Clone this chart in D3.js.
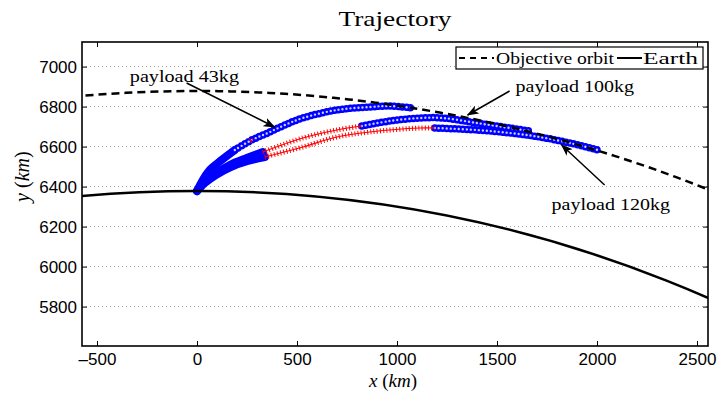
<!DOCTYPE html>
<html>
<head>
<meta charset="utf-8">
<script src="https://cdn.jsdelivr.net/npm/d3@7"></script>
<style>
  body { margin: 0; background: #fff; }
  svg { display: block; }
</style>
</head>
<body>
<div id="vis"></div>
<script>
// Tick values
var xTicks = [-500, 0, 500, 1000, 1500, 2000, 2500];
var yTicks = [5800, 6000, 6200, 6400, 6600, 6800, 7000];

// Radii (km) of the Earth and the objective orbit
var earthRadius = 6378;
var orbitRadius = 6878;

// payload 43kg
var launch43 = [[0, 6378], [29, 6433], [64, 6483], [104, 6518], [189, 6583]];
var thrust43 = [[189, 6583], [274, 6633], [354, 6668], [439, 6708], [529, 6743], [699, 6783], [864, 6798], [964, 6803], [1079, 6793]];
var coast43 = [[266, 6628], [280, 6636]];

// payload 100kg
var launch100 = [[0, 6378], [39, 6423], [89, 6463], [164, 6508], [249, 6543], [329, 6573]];
var coast100 = [[329, 6573], [529, 6643], [699, 6683], [824, 6703]];
var thrust100 = [[824, 6703], [964, 6728], [1114, 6743], [1229, 6743], [1399, 6718], [1564, 6693], [1664, 6678]];

// payload 120kg
var launch120 = [[0, 6378], [39, 6418], [94, 6458], [169, 6498], [254, 6528], [339, 6548]];
var coast120 = [[339, 6548], [529, 6598], [699, 6648], [864, 6673], [1114, 6693], [1189, 6693]];
var thrust120 = [[1189, 6693], [1399, 6683], [1564, 6668], [1714, 6648], [1864, 6618], [2004, 6583]];

// Annotations: text, text anchor point, arrow tail, arrow tip (km)
var noteLabels = ['payload 43kg', 'payload 100kg', 'payload 120kg'];
var noteText = [[-336, 6923], [1593, 6873], [1773, 6283]];
var noteTail = [[-52, 6918], [1563, 6878], [2038, 6408]];
var noteTip = [[388, 6698], [1353, 6758], [1823, 6608]];

// Chart size
var width = 720;
var height = 395;
var margin = {top: 42, right: 12, bottom: 49, left: 82};
var innerW = width - margin.left - margin.right;
var innerH = height - margin.top - margin.bottom;

var x = d3.scaleLinear().domain([-575, 2555]).range([0, innerW]);
var y = d3.scaleLinear().domain([5603, 7123]).range([innerH, 0]);

var svg = d3.select('#vis').append('svg')
    .attr('width', width)
    .attr('height', height);

var defs = svg.append('defs');
defs.append('clipPath').attr('id', 'clip')
    .append('rect').attr('width', innerW).attr('height', innerH);
defs.append('marker')
    .attr('id', 'head')
    .attr('viewBox', '0 -5 12 10')
    .attr('refX', 11).attr('refY', 0)
    .attr('markerWidth', 12).attr('markerHeight', 10)
    .attr('markerUnits', 'userSpaceOnUse')
    .attr('orient', 'auto')
    .append('path')
    .attr('d', 'M0,-4.5L12,0L0,4.5L3,0Z')
    .attr('fill', '#000');

var g = svg.append('g').attr('transform', 'translate(' + margin.left + ',' + margin.top + ')');

// Horizontal dotted grid
g.append('g').selectAll('line')
    .data(yTicks)
    .enter().append('line')
    .attr('x1', 0).attr('x2', innerW)
    .attr('y1', function (d) { return y(d); })
    .attr('y2', function (d) { return y(d); })
    .attr('stroke', '#9a9a9a')
    .attr('stroke-width', 1)
    .attr('stroke-dasharray', '1,3');

var plot = g.append('g').attr('clip-path', 'url(#clip)');

var line = d3.line()
    .x(function (d) { return x(d[0]); })
    .y(function (d) { return y(d[1]); })
    .curve(d3.curveCatmullRom);

// Launch arcs: dense markers look like a solid band
[launch43, launch100, launch120].forEach(function (arc) {
    plot.append('path')
        .attr('d', line(arc))
        .attr('fill', 'none')
        .attr('stroke', '#0000ff')
        .attr('stroke-width', 8)
        .attr('stroke-linecap', 'round');
});

// Thrust arcs with circle markers
[thrust43, thrust100, thrust120].forEach(function (arc) {
    plot.append('path')
        .attr('d', line(arc))
        .attr('fill', 'none')
        .attr('stroke', '#0000ff')
        .attr('stroke-width', 7.5)
        .attr('stroke-linecap', 'round')
        .attr('stroke-dasharray', '0,4');
});
[thrust43, thrust100, thrust120].forEach(function (arc) {
    plot.append('path')
        .attr('d', line(arc))
        .attr('fill', 'none')
        .attr('stroke', '#c8cdff')
        .attr('stroke-width', 2.4)
        .attr('stroke-linecap', 'round')
        .attr('stroke-dasharray', '0,4');
});

// Coast arcs with x markers
[coast43, coast100, coast120].forEach(function (arc) {
    plot.append('path')
        .attr('d', line(arc))
        .attr('fill', 'none')
        .attr('stroke', '#ff0000')
        .attr('stroke-width', 1.2);
    plot.append('path')
        .attr('d', line(arc))
        .attr('fill', 'none')
        .attr('stroke', '#ff0000')
        .attr('stroke-width', 5)
        .attr('stroke-dasharray', '1,2.2');
});

// Objective orbit and Earth
plot.append('circle')
    .attr('cx', x(0)).attr('cy', y(0))
    .attr('r', x(orbitRadius) - x(0))
    .attr('fill', 'none')
    .attr('stroke', '#000')
    .attr('stroke-width', 2.5)
    .attr('stroke-dasharray', '8,5');

plot.append('circle')
    .attr('cx', x(0)).attr('cy', y(0))
    .attr('r', x(earthRadius) - x(0))
    .attr('fill', 'none')
    .attr('stroke', '#000')
    .attr('stroke-width', 2.5);

// Axes with inward ticks on all four sides
var axisFont = '"Liberation Sans", Arial, sans-serif';
var xAxis = g.append('g').attr('transform', 'translate(0,' + innerH + ')')
    .call(d3.axisBottom(x).tickValues(xTicks).tickSize(-5).tickPadding(7).tickFormat(d3.format('d')));
var yAxis = g.append('g')
    .call(d3.axisLeft(y).tickValues(yTicks).tickSize(-5).tickPadding(5).tickFormat(d3.format('d')));
var xTop = g.append('g')
    .call(d3.axisTop(x).tickValues(xTicks).tickSize(-5).tickFormat(''));
var yRight = g.append('g').attr('transform', 'translate(' + innerW + ',0)')
    .call(d3.axisRight(y).tickValues(yTicks).tickSize(-5).tickFormat(''));

[xAxis, yAxis, xTop, yRight].forEach(function (a) {
    a.select('.domain').remove();
    a.selectAll('.tick line').attr('stroke', '#000').attr('stroke-width', 1);
    a.selectAll('.tick text')
        .attr('fill', '#000')
        .style('font-family', axisFont)
        .style('font-size', '17px');
});
xAxis.selectAll('.tick text').text(function (d) { return d < 0 ? '\u2013' + Math.abs(d) : d; });

g.append('rect')
    .attr('width', innerW).attr('height', innerH)
    .attr('fill', 'none')
    .attr('stroke', '#000')
    .attr('stroke-width', 1.6);

// Annotations
var serif = '"Liberation Serif", "DejaVu Serif", serif';
noteLabels.forEach(function (label, i) {
    g.append('line')
        .attr('x1', x(noteTail[i][0])).attr('y1', y(noteTail[i][1]))
        .attr('x2', x(noteTip[i][0])).attr('y2', y(noteTip[i][1]))
        .attr('stroke', '#000')
        .attr('stroke-width', 1.5)
        .attr('marker-end', 'url(#head)');
    g.append('text')
        .attr('x', x(noteText[i][0])).attr('y', y(noteText[i][1]))
        .attr('textLength', label.length * 9.1)
        .attr('lengthAdjust', 'spacingAndGlyphs')
        .style('font-family', serif)
        .style('font-size', '16px')
        .text(label);
});

// Legend
var legend = g.append('g').attr('transform', 'translate(' + (innerW - 252) + ',5)');
legend.append('rect')
    .attr('width', 247).attr('height', 22)
    .attr('fill', '#fff')
    .attr('stroke', '#000')
    .attr('stroke-width', 1.2);
legend.append('line')
    .attr('x1', 3).attr('x2', 38).attr('y1', 11).attr('y2', 11)
    .attr('stroke', '#000').attr('stroke-width', 2)
    .attr('stroke-dasharray', '6,5');
legend.append('text')
    .attr('x', 40).attr('y', 16.5)
    .attr('textLength', 118).attr('lengthAdjust', 'spacingAndGlyphs')
    .style('font-family', serif).style('font-size', '16px')
    .text('Objective orbit');
legend.append('line')
    .attr('x1', 161).attr('x2', 186).attr('y1', 11).attr('y2', 11)
    .attr('stroke', '#000').attr('stroke-width', 2);
legend.append('text')
    .attr('x', 187).attr('y', 16.5)
    .attr('textLength', 55).attr('lengthAdjust', 'spacingAndGlyphs')
    .style('font-family', serif).style('font-size', '16px')
    .text('Earth');

// Title and axis labels
svg.append('text')
    .attr('x', margin.left + innerW / 2).attr('y', 26)
    .attr('text-anchor', 'middle')
    .attr('textLength', 113).attr('lengthAdjust', 'spacingAndGlyphs')
    .style('font-family', serif).style('font-size', '21px')
    .text('Trajectory');

var xLabel = svg.append('text')
    .attr('x', margin.left + innerW / 2 - 2).attr('y', 387)
    .attr('text-anchor', 'middle')
    .style('font-family', serif).style('font-size', '19px');
xLabel.append('tspan').style('font-style', 'italic').text('x');
xLabel.append('tspan').text(' (');
xLabel.append('tspan').style('font-style', 'italic').text('km');
xLabel.append('tspan').text(')');

var yLabel = svg.append('text')
    .attr('transform', 'translate(29,' + (margin.top + y(6450)) + ') rotate(-90)')
    .attr('text-anchor', 'middle')
    .style('font-family', serif).style('font-size', '20px');
yLabel.append('tspan').style('font-style', 'italic').text('y');
yLabel.append('tspan').text(' (');
yLabel.append('tspan').style('font-style', 'italic').text('km');
yLabel.append('tspan').text(')');
</script>
</body>
</html>
